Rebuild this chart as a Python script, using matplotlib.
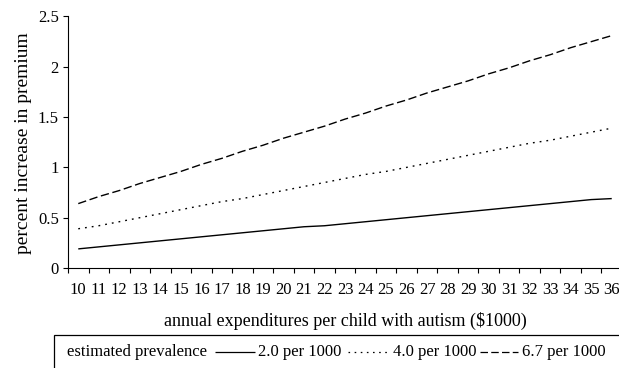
import matplotlib
matplotlib.use('Agg')
import matplotlib.pyplot as plt
from matplotlib.patches import Rectangle
from matplotlib.lines import Line2D
import numpy as np

plt.rcParams['font.family'] = ['Liberation Serif', 'DejaVu Serif']

# annual expenditures per child ($1000)
expenditures = list(range(10, 37))
# percent increase in premium, by prevalence
prev_2_0 = [0.19, 0.21, 0.23, 0.25, 0.27, 0.29, 0.31, 0.33, 0.35, 0.37, 0.39, 0.41, 0.42, 0.44,
            0.46, 0.48, 0.50, 0.52, 0.54, 0.56, 0.58, 0.60, 0.62, 0.64, 0.66, 0.68, 0.69]
prev_4_0 = [0.39, 0.42, 0.46, 0.50, 0.54, 0.58, 0.62, 0.66, 0.69, 0.73, 0.77, 0.81, 0.85, 0.89,
            0.93, 0.96, 1.00, 1.04, 1.08, 1.12, 1.16, 1.20, 1.24, 1.27, 1.31, 1.35, 1.39]
prev_6_7 = [0.64, 0.71, 0.77, 0.84, 0.90, 0.96, 1.03, 1.09, 1.16, 1.22, 1.29, 1.35, 1.41, 1.48,
            1.54, 1.61, 1.67, 1.74, 1.80, 1.86, 1.93, 1.99, 2.06, 2.12, 2.19, 2.25, 2.31]
labels = ['2.0 per 1000', '4.0 per 1000', '6.7 per 1000']

W, H = 619, 368
fig = plt.figure(figsize=(W / 100, H / 100), dpi=100)

def fx(px):
    return px / W

def fy(py):
    return 1 - py / H

# axes spans pixel x 68..622 (slightly cropped on the right), y 16.5..268
ax = fig.add_axes([fx(68), fy(268), fx(622) - fx(68), fy(16.5) - fy(268)])

pos = np.arange(len(expenditures)) + 0.5
solid = (0, ())
dotted = (0, (1.3, 3.6))
dashed = (0, (6, 2.6))
ax.plot(pos, prev_2_0, color='black', lw=1.0, linestyle=solid)
ax.plot(pos, prev_4_0, color='black', lw=1.0, linestyle=dotted)
ax.plot(pos, prev_6_7, color='black', lw=1.0, linestyle=dashed)

ax.set_xlim(0, len(expenditures))
ax.set_ylim(0, 2.5)

ax.set_xticks(np.arange(len(expenditures) + 1))
ax.set_xticklabels([])
ax.set_xticks(pos, minor=True)
ax.set_xticklabels([str(v) for v in expenditures], minor=True, fontsize=12)
ax.tick_params(axis='x', which='major', direction='out', length=3.6, width=0.8)
ax.tick_params(axis='x', which='minor', length=0, pad=10)

ax.set_yticks([0, 0.5, 1, 1.5, 2, 2.5])
ax.set_yticklabels(['0', '0.5', '1', '1.5', '2', '2.5'], fontsize=12)
ax.tick_params(axis='y', direction='out', length=3.6, width=0.8, pad=3)

for s in ['top', 'right']:
    ax.spines[s].set_visible(False)
for s in ['left', 'bottom']:
    ax.spines[s].set_linewidth(0.8)

ax.set_xlabel('annual expenditures per child with autism ($1000)', fontsize=13, labelpad=10)
fig.text(fx(24), fy(143), 'percent increase in premium', fontsize=14,
         rotation=90, ha='center', va='center')

# legend box along the bottom
fig.add_artist(Rectangle((fx(54), fy(380)), fx(640) - fx(54), fy(335) - fy(380),
                         transform=fig.transFigure, fill=False, edgecolor='black', lw=0.9))
ty = fy(352)
fig.text(fx(67), ty, 'estimated prevalence', fontsize=12, ha='left', va='center')
for (x0, x1, xt), ls, lab in zip([(215, 255, 258), (348, 388, 393), (480, 518, 522)],
                                 [solid, dotted, dashed], labels):
    fig.add_artist(Line2D([fx(x0), fx(x1)], [ty, ty], transform=fig.transFigure,
                          color='black', lw=0.9, linestyle=ls))
    fig.text(fx(xt), ty, lab, fontsize=12, ha='left', va='center')

fig.savefig('out.png', dpi=100)
